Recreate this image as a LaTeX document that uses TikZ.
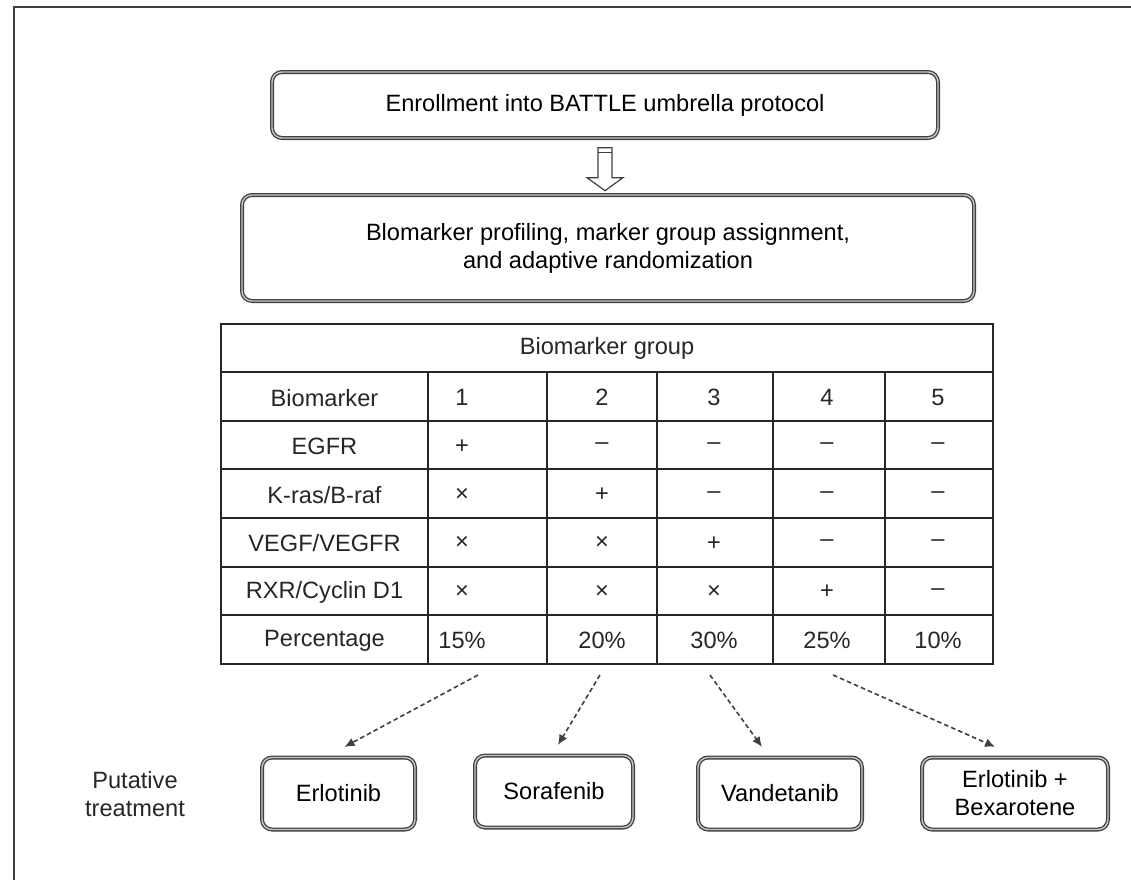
\documentclass[tikz,border=0pt]{standalone}
\usepackage{fontspec}
\setmainfont{Liberation Sans}
\usetikzlibrary{arrows.meta, positioning, calc}

\begin{document}
\begin{tikzpicture}[
        x=0.5pt, y=-0.5pt,
        font=\fontsize{11.8}{14}\selectfont,
        box/.style={rectangle, draw=black!75, double=gray!45, double distance=0.7pt, line width=0.65pt, rounded corners=5pt, align=center, inner sep=0pt},
        treat/.style={box, minimum height=36pt},
        cell/.style={inner sep=0pt, text=black!85},
        grid/.style={line width=0.85pt, black!85},
        dasharrow/.style={-{Latex[length=5pt, width=4.5pt]}, black!75, line width=0.8pt, dash pattern=on 2.3pt off 1.5pt}
    ]
    \useasboundingbox (0,0) rectangle (1131,880);

    % Frame
    \draw[line width=1.4pt, black!75] (14,880) -- (14,7) -- (1131,7);

    % Protocol boxes
    \node[box, minimum width=333pt, minimum height=33pt] (enroll) at (605,105) {Enrollment into BATTLE umbrella protocol};
    \node[box, minimum width=366pt, minimum height=53pt] (profile) at (608,248) {Blomarker profiling, marker group assignment,\\and adaptive randomization};

    % Hollow arrow
    \draw[black!75, line width=0.6pt, fill=white] ($(enroll.south)+(-7,9)$) -- ++(0,30) -- ++(-11,0) -- ++(18,13) -- ++(18,-13) -- ++(-11,0) -- ++(0,-30) -- cycle;
    \draw[black!75, line width=0.6pt] ($(enroll.south)+(-7,14)$) -- ++(14,0);

    % Table grid
    \draw[grid] (221,324) rectangle (993,664);
    \foreach \y in {372,420.7,469.3,518,566.7,615.3}
        \draw[grid] (221,\y) -- (993,\y);
    \foreach \x in {428,547,657,773,885}
        \draw[grid] (\x,372) -- (\x,664);

    % Table cells
    \node[cell] (head) at (607,348) {Biomarker group};
    \foreach \r/\lab/\a/\b/\c/\d/\e in {
            1/Biomarker/1/2/3/4/5,
            2/EGFR/+/–/–/–/–,
            3/{K-ras/B-raf}/×/+/–/–/–,
            4/{VEGF/VEGFR}/×/×/+/–/–,
            5/{RXR/Cyclin D1}/×/×/×/+/–,
            6/Percentage/15\%/20\%/30\%/25\%/10\%} {
        \node[cell] (c-\r-0) at (324.5,349+48.6*\r) {\lab};
        \node[cell] (c-\r-1) at (462,349+48.6*\r) {\a};
        \node[cell] (c-\r-2) at (602,349+48.6*\r) {\b};
        \node[cell] (c-\r-3) at (714,349+48.6*\r) {\c};
        \node[cell] (c-\r-4) at (827,349+48.6*\r) {\d};
        \node[cell] (c-\r-5) at (938,349+48.6*\r) {\e};
    }

    % Putative treatments
    \node[cell, align=center] (putative) at (135,794) {Putative\\treatment};
    \node[treat, minimum width=76.5pt] (erl) at (338.5,793.5) {Erlotinib};
    \node[treat, minimum width=79pt] (sora) at (554,791.5) {Sorafenib};
    \node[treat, minimum width=82pt] (vand) at (780,793.5) {Vandetanib};
    \node[treat, minimum width=93pt] (bexa) at (1015,793.5) {Erlotinib +\\Bexarotene};

    % Arrows
    \coordinate (s1) at (478,675);
    \coordinate (s2) at (600,675);
    \coordinate (s3) at (710,675);
    \coordinate (s4) at (833,675);
    \draw[dasharrow] (s1) -- ($(erl.north)+(6,-10)$);
    \draw[dasharrow] (s2) -- ($(sora.north)+(4,-10)$);
    \draw[dasharrow] (s3) -- ($(vand.north)+(-18,-10)$);
    \draw[dasharrow] (s4) -- ($(bexa.north)+(-20,-10)$);

\end{tikzpicture}
\end{document}
